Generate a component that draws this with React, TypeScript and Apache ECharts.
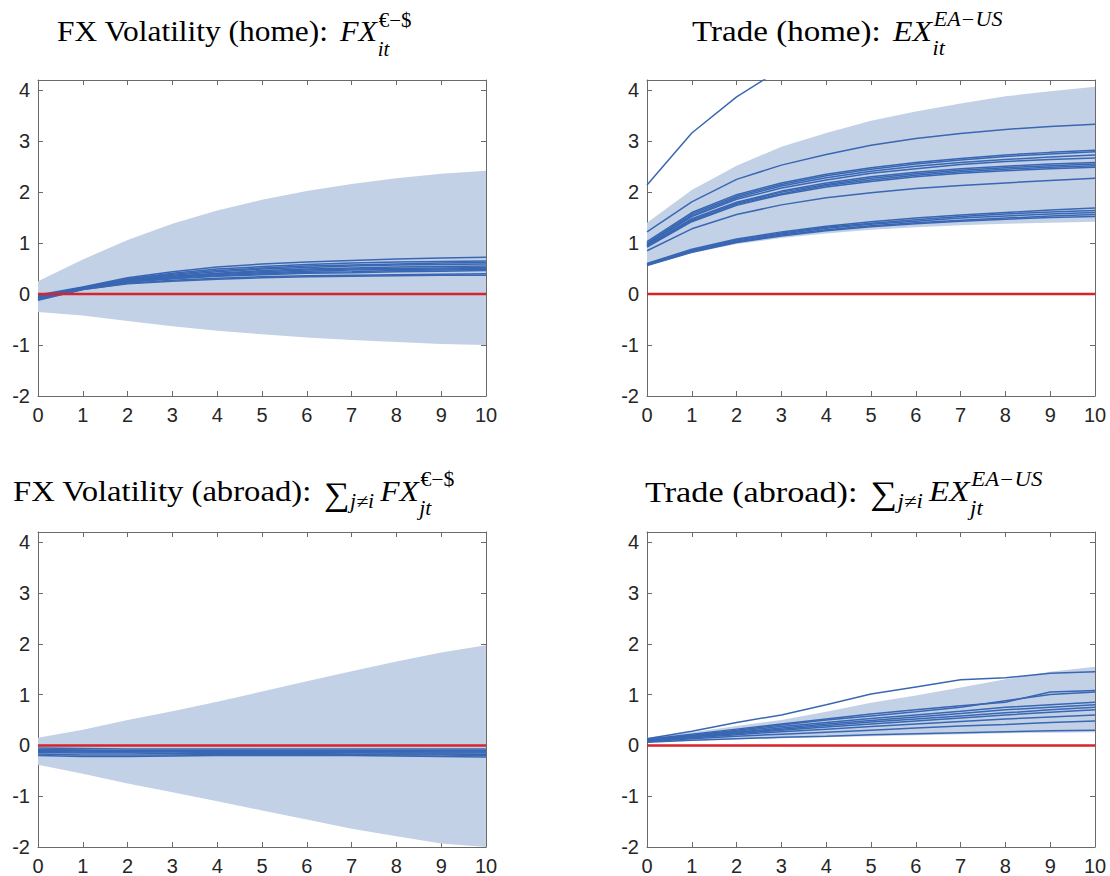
import React, { useEffect, useRef } from "react";
import * as echarts from "echarts";

// ---------- data ----------
const steps = [0, 1, 2, 3, 4, 5, 6, 7, 8, 9, 10];
const yTicks = [-2, -1, 0, 1, 2, 3, 4];

// Panel 1: FX Volatility (home)
const fxHomeLower = [-0.35, -0.42, -0.53, -0.63, -0.72, -0.79, -0.85, -0.9, -0.94, -0.98, -1.0];
const fxHomeUpper = [0.25, 0.68, 1.06, 1.38, 1.64, 1.85, 2.02, 2.16, 2.27, 2.36, 2.42];
const fxHomeLines = [
  [-0.02, 0.14, 0.32, 0.44, 0.53, 0.59, 0.63, 0.66, 0.69, 0.71, 0.72],
  [-0.04, 0.13, 0.3, 0.41, 0.49, 0.54, 0.58, 0.61, 0.63, 0.64, 0.65],
  [-0.05, 0.13, 0.29, 0.39, 0.46, 0.51, 0.55, 0.57, 0.59, 0.61, 0.62],
  [-0.06, 0.12, 0.28, 0.37, 0.44, 0.49, 0.52, 0.55, 0.57, 0.58, 0.59],
  [-0.07, 0.12, 0.27, 0.35, 0.41, 0.46, 0.49, 0.51, 0.53, 0.54, 0.55],
  [-0.08, 0.11, 0.26, 0.34, 0.4, 0.44, 0.47, 0.49, 0.5, 0.51, 0.52],
  [-0.08, 0.11, 0.25, 0.33, 0.38, 0.42, 0.45, 0.47, 0.48, 0.49, 0.5],
  [-0.09, 0.1, 0.24, 0.31, 0.36, 0.4, 0.43, 0.44, 0.46, 0.47, 0.48],
  [-0.1, 0.1, 0.23, 0.3, 0.35, 0.38, 0.41, 0.42, 0.44, 0.45, 0.46],
  [-0.11, 0.09, 0.21, 0.27, 0.31, 0.34, 0.36, 0.37, 0.38, 0.39, 0.4],
  [-0.12, 0.09, 0.2, 0.25, 0.29, 0.32, 0.34, 0.35, 0.36, 0.37, 0.37],
];

// Panel 2: Trade (home)
const trHomeLower = [0.55, 0.8, 0.98, 1.1, 1.19, 1.26, 1.31, 1.35, 1.38, 1.4, 1.42];
const trHomeUpper = [1.4, 2.04, 2.52, 2.89, 3.16, 3.4, 3.58, 3.74, 3.88, 3.98, 4.07];
const trHomeLines = [
  [2.14, 3.16, 3.87, 4.42, 4.85, 5.2, 5.45, 5.65, 5.8, 5.92, 6.0],
  [1.22, 1.81, 2.25, 2.53, 2.74, 2.92, 3.05, 3.15, 3.23, 3.29, 3.33],
  [1.03, 1.6, 1.95, 2.18, 2.35, 2.48, 2.58, 2.66, 2.73, 2.78, 2.82],
  [1.0, 1.57, 1.92, 2.15, 2.32, 2.45, 2.55, 2.63, 2.7, 2.75, 2.79],
  [0.98, 1.54, 1.89, 2.12, 2.28, 2.41, 2.51, 2.58, 2.64, 2.69, 2.73],
  [0.97, 1.52, 1.86, 2.08, 2.24, 2.37, 2.46, 2.54, 2.6, 2.64, 2.67],
  [0.95, 1.48, 1.8, 2.02, 2.18, 2.3, 2.39, 2.46, 2.51, 2.55, 2.58],
  [0.94, 1.46, 1.78, 2.0, 2.15, 2.27, 2.36, 2.43, 2.48, 2.52, 2.55],
  [0.93, 1.44, 1.76, 1.97, 2.13, 2.24, 2.33, 2.4, 2.45, 2.49, 2.52],
  [0.92, 1.42, 1.74, 1.95, 2.1, 2.21, 2.3, 2.37, 2.42, 2.46, 2.49],
  [0.85, 1.28, 1.56, 1.75, 1.89, 1.99, 2.07, 2.13, 2.18, 2.23, 2.27],
  [0.6, 0.88, 1.08, 1.22, 1.33, 1.42, 1.49, 1.55, 1.6, 1.65, 1.69],
  [0.59, 0.86, 1.06, 1.2, 1.31, 1.39, 1.46, 1.52, 1.57, 1.61, 1.64],
  [0.58, 0.85, 1.04, 1.18, 1.29, 1.37, 1.43, 1.49, 1.53, 1.57, 1.6],
  [0.57, 0.83, 1.02, 1.16, 1.26, 1.34, 1.4, 1.45, 1.49, 1.53, 1.56],
  [0.56, 0.82, 1.01, 1.14, 1.24, 1.32, 1.38, 1.43, 1.47, 1.5, 1.52],
];

// Panel 3: FX Volatility (abroad)
const fxAbroadLower = [-0.38, -0.56, -0.75, -0.92, -1.1, -1.28, -1.46, -1.64, -1.79, -1.93, -2.06];
const fxAbroadUpper = [0.15, 0.31, 0.5, 0.67, 0.86, 1.06, 1.26, 1.46, 1.65, 1.83, 1.97];
const fxAbroadLines = [
  [-0.05, -0.06, -0.07, -0.07, -0.07, -0.07, -0.07, -0.07, -0.07, -0.07, -0.07],
  [-0.08, -0.09, -0.1, -0.1, -0.1, -0.1, -0.1, -0.1, -0.1, -0.1, -0.1],
  [-0.09, -0.1, -0.11, -0.11, -0.11, -0.12, -0.12, -0.12, -0.12, -0.11, -0.11],
  [-0.1, -0.11, -0.12, -0.12, -0.12, -0.12, -0.12, -0.12, -0.13, -0.13, -0.13],
  [-0.12, -0.13, -0.13, -0.13, -0.14, -0.14, -0.14, -0.14, -0.15, -0.15, -0.15],
  [-0.14, -0.15, -0.15, -0.16, -0.16, -0.16, -0.16, -0.17, -0.17, -0.17, -0.18],
  [-0.17, -0.19, -0.19, -0.19, -0.18, -0.18, -0.18, -0.18, -0.19, -0.19, -0.2],
  [-0.2, -0.22, -0.22, -0.21, -0.2, -0.2, -0.2, -0.2, -0.21, -0.22, -0.23],
];

// Panel 4: Trade (abroad)
const trAbroadLower = [0.06, 0.09, 0.12, 0.14, 0.16, 0.18, 0.2, 0.22, 0.24, 0.25, 0.26];
const trAbroadUpper = [0.15, 0.26, 0.38, 0.5, 0.66, 0.84, 0.98, 1.14, 1.3, 1.45, 1.55];
const trAbroadLines = [
  [0.13, 0.28, 0.45, 0.6, 0.8, 1.01, 1.15, 1.29, 1.33, 1.42, 1.45],
  [0.12, 0.22, 0.32, 0.42, 0.52, 0.62, 0.7, 0.78, 0.85, 1.05, 1.08],
  [0.11, 0.2, 0.3, 0.4, 0.5, 0.58, 0.66, 0.75, 0.88, 1.0, 1.05],
  [0.1, 0.19, 0.28, 0.37, 0.45, 0.53, 0.6, 0.67, 0.75, 0.8, 0.85],
  [0.1, 0.18, 0.26, 0.34, 0.42, 0.49, 0.56, 0.63, 0.7, 0.75, 0.8],
  [0.09, 0.17, 0.25, 0.32, 0.39, 0.46, 0.52, 0.58, 0.64, 0.7, 0.75],
  [0.09, 0.16, 0.23, 0.3, 0.36, 0.42, 0.48, 0.54, 0.6, 0.65, 0.7],
  [0.08, 0.15, 0.21, 0.27, 0.32, 0.37, 0.42, 0.47, 0.52, 0.56, 0.6],
  [0.07, 0.13, 0.18, 0.22, 0.26, 0.3, 0.34, 0.38, 0.41, 0.45, 0.48],
  [0.06, 0.1, 0.13, 0.16, 0.18, 0.21, 0.23, 0.25, 0.27, 0.29, 0.3],
];

const zeroLine = [0, 0, 0, 0, 0, 0, 0, 0, 0, 0, 0];

// ---------- titles ----------
type Piece = { t?: string; it?: boolean; size?: number; dy?: number; sub?: string; sup?: string; subIt?: boolean; supIt?: boolean; space?: number };
const titles: { pieces: Piece[]; left: number; right: number; baseline: number }[] = [
  {
    pieces: [{ t: "FX Volatility (home):", size: 30 }, { space: 11 }, { t: "FX", it: true }, { sub: "it", subIt: true, sup: "€−$" }],
    left: 57, right: 412, baseline: 41.5,
  },
  {
    pieces: [{ t: "Trade (home):", size: 30 }, { space: 11 }, { t: "EX", it: true }, { sub: "it", subIt: true, sup: "EA−US", supIt: true }],
    left: 692, right: 1003, baseline: 41.5,
  },
  {
    pieces: [{ t: "FX Volatility (abroad):", size: 30 }, { space: 11 }, { t: "∑", size: 33, dy: 3 }, { sub: "j≠i", subIt: true }, { space: 5 }, { t: "FX", it: true }, { sub: "jt", subIt: true, sup: "€−$" }],
    left: 13, right: 455, baseline: 501.5,
  },
  {
    pieces: [{ t: "Trade (abroad):", size: 30 }, { space: 11 }, { t: "∑", size: 33, dy: 3 }, { sub: "j≠i", subIt: true }, { space: 5 }, { t: "EX", it: true }, { sub: "jt", subIt: true, sup: "EA−US", supIt: true }],
    left: 645, right: 1043, baseline: 501.5,
  },
];

const SERIF = '"Liberation Serif", "Times New Roman", serif';
const SANS = '"Liberation Sans", Arial, Helvetica, sans-serif';
const BLUE = "#3967b3";
const BAND = "#c3d1e6";
const RED = "#d7232a";
const AXIS = "#6a6a6a";

const grids = [
  { left: 38, top: 80, width: 448, height: 316 },
  { left: 647, top: 80, width: 448, height: 316 },
  { left: 38, top: 532, width: 448, height: 316 },
  { left: 647, top: 532, width: 448, height: 316 },
];

const panels = [
  { lower: fxHomeLower, upper: fxHomeUpper, lines: fxHomeLines },
  { lower: trHomeLower, upper: trHomeUpper, lines: trHomeLines },
  { lower: fxAbroadLower, upper: fxAbroadUpper, lines: fxAbroadLines },
  { lower: trAbroadLower, upper: trAbroadUpper, lines: trAbroadLines },
];

function buildTitleGraphics() {
  const canvas = document.createElement("canvas");
  const ctx = canvas.getContext("2d") as CanvasRenderingContext2D;
  const fontOf = (size: number, it?: boolean) => `${it ? "italic " : ""}${size}px ${SERIF}`;
  const measure = (text: string, size: number, it?: boolean) => {
    ctx.font = fontOf(size, it);
    return ctx.measureText(text).width;
  };
  const layout = (pieces: Piece[]) => {
    let x = 0;
    const els: { x: number; dy: number; text: string; size: number; it?: boolean }[] = [];
    for (const p of pieces) {
      if (p.t) {
        const size = p.size || 29;
        els.push({ x, dy: p.dy || 0, text: p.t, size, it: p.it });
        x += measure(p.t, size, p.it);
      } else if (p.space) {
        x += p.space;
      } else {
        const size = 20;
        let w = 0;
        if (p.sub) {
          const dy = p.sup ? 14 : 7;
          els.push({ x: x + 0.5, dy, text: p.sub, size, it: p.subIt });
          w = Math.max(w, measure(p.sub, size, p.subIt));
        }
        if (p.sup) {
          els.push({ x: x + 1.5, dy: -15, text: p.sup, size, it: p.supIt });
          w = Math.max(w, measure(p.sup, size, p.supIt) + 1);
        }
        x += w + 1;
      }
    }
    return { els, width: x };
  };
  const out: any[] = [];
  for (const tt of titles) {
    const lay = layout(tt.pieces);
    const target = tt.right - tt.left;
    let sx = target / lay.width;
    sx = Math.max(0.9, Math.min(1.15, sx));
    const cx = (tt.left + tt.right) / 2;
    const x0 = cx - (lay.width * sx) / 2;
    out.push({
      type: "group",
      x: x0,
      y: 0,
      scaleX: sx,
      scaleY: 1,
      silent: true,
      children: lay.els.map((e) => ({
        type: "text",
        silent: true,
        x: e.x,
        y: tt.baseline + e.dy - 0.34 * e.size,
        style: {
          text: e.text,
          font: fontOf(e.size, e.it),
          fill: "#000",
          align: "left",
          verticalAlign: "middle",
        },
      })),
    });
  }
  return out;
}

function buildOption() {
  const xAxis: any[] = [];
  const yAxis: any[] = [];
  const series: any[] = [];
  const grid = grids.map((g) => ({ ...g, containLabel: false }));

  grids.forEach((_, g) => {
    const common = {
      type: "value",
      gridIndex: g,
      min: 0,
      max: 10,
      interval: 1,
      splitLine: { show: false },
      axisLine: { show: true, onZero: false, lineStyle: { color: AXIS, width: 1 } },
      axisTick: { show: true, inside: true, length: 5, lineStyle: { color: AXIS, width: 1 } },
    };
    xAxis.push({
      ...common,
      position: "bottom",
      axisLabel: { show: true, fontSize: 20, color: "#262626", fontFamily: SANS, margin: 9 },
    });
    xAxis.push({ ...common, position: "top", axisLabel: { show: false } });

    const ycommon = {
      type: "value",
      gridIndex: g,
      min: yTicks[0],
      max: 4.2,
      interval: 1,
      splitLine: { show: false },
      axisLine: { show: true, onZero: false, lineStyle: { color: AXIS, width: 1 } },
      axisTick: { show: true, inside: true, length: 5, lineStyle: { color: AXIS, width: 1 } },
    };
    yAxis.push({
      ...ycommon,
      position: "left",
      axisLabel: {
        show: true,
        fontSize: 20,
        color: "#262626",
        fontFamily: SANS,
        margin: 8,
        showMaxLabel: false,
        formatter: (v: number) => (yTicks.includes(v) ? String(v) : ""),
      },
    });
    yAxis.push({ ...ycommon, position: "right", axisLabel: { show: false } });

    const p = panels[g];
    const xi = g * 2;
    series.push({
      type: "custom",
      xAxisIndex: xi,
      yAxisIndex: xi,
      silent: true,
      z: 1,
      data: steps.map((x, i) => [x, p.lower[i], p.upper[i]]),
      encode: { x: 0, y: [1, 2] },
      renderItem: (params: any, api: any) => {
        if (params.dataIndex !== 0) return null;
        const pts: number[][] = [];
        for (let i = 0; i < steps.length; i++) pts.push(api.coord([steps[i], p.upper[i]]));
        for (let i = steps.length - 1; i >= 0; i--) pts.push(api.coord([steps[i], p.lower[i]]));
        const cs = params.coordSys;
        const clipped = (echarts.graphic as any).clipPointsByRect(pts, {
          x: cs.x,
          y: cs.y,
          width: cs.width,
          height: cs.height,
        });
        return { type: "polygon", shape: { points: clipped }, style: { fill: BAND } };
      },
    });
    p.lines.forEach((ln) => {
      series.push({
        type: "line",
        xAxisIndex: xi,
        yAxisIndex: xi,
        symbol: "none",
        silent: true,
        clip: true,
        lineStyle: { color: BLUE, width: 1.5 },
        data: steps.map((x, i) => [x, ln[i]]),
        z: 3,
      });
    });
    series.push({
      type: "line",
      xAxisIndex: xi,
      yAxisIndex: xi,
      symbol: "none",
      silent: true,
      lineStyle: { color: RED, width: 2.5 },
      data: steps.map((x, i) => [x, zeroLine[i]]),
      z: 5,
    });
  });

  return {
    animation: false,
    backgroundColor: "#ffffff",
    grid,
    xAxis,
    yAxis,
    series,
    graphic: buildTitleGraphics(),
  };
}

export default function App() {
  const ref = useRef<HTMLDivElement>(null);
  useEffect(() => {
    if (!ref.current) return;
    const chart = echarts.init(ref.current, undefined, { renderer: "svg" });
    chart.setOption(buildOption() as any);
    return () => chart.dispose();
  }, []);
  return (
    <div
      ref={ref}
      style={{ position: "absolute", left: 0, top: 0, width: 1110, height: 876, background: "#fff" }}
    />
  );
}
